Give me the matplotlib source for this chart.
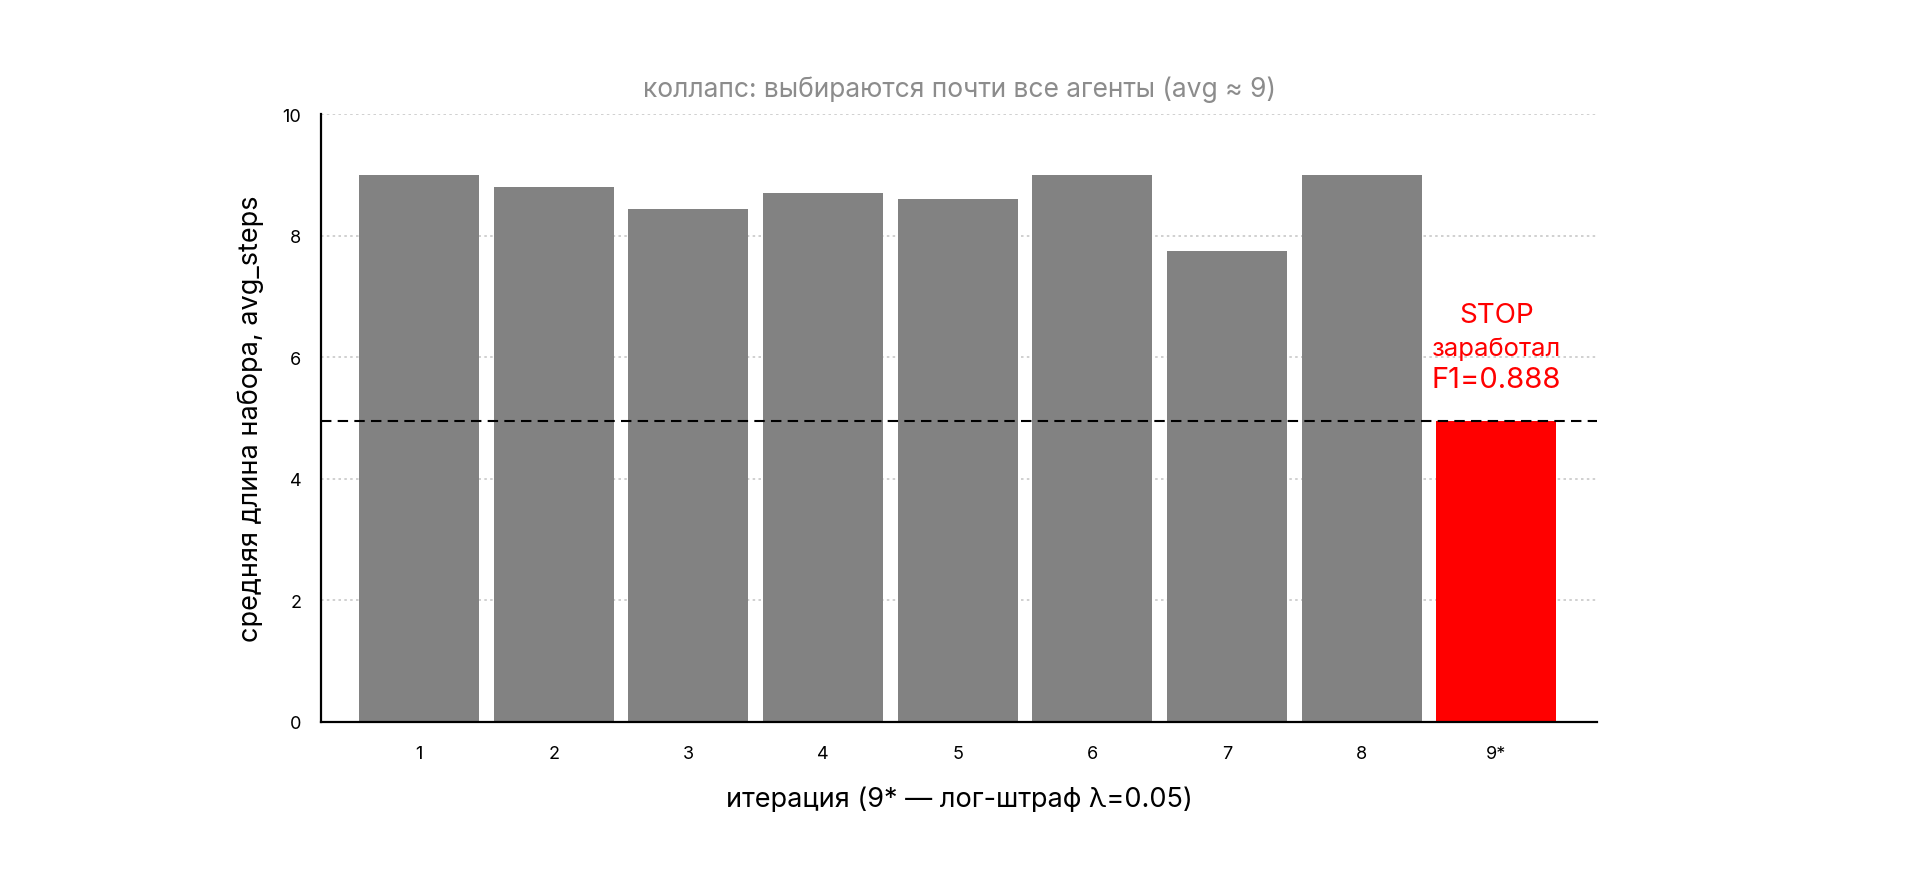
"""
Средняя длина набора по итерациям
"""

import matplotlib
matplotlib.use('Agg')
import matplotlib.pyplot as plt

# Данные
iterations = ['1', '2', '3', '4', '5', '6', '7', '8', '9*']
avg_steps = [9.0, 8.8, 8.43, 8.7, 8.6, 9.0, 7.75, 9.0, 4.94]
bar_colors = ['#828282'] * 8 + ['#ff0000']
stop_level = 4.94

plt.rcParams['font.family'] = ['Inter', 'DejaVu Sans']

fig = plt.figure(figsize=(19.2, 8.78), dpi=100)
ax = fig.add_axes([0.167, 0.177, 0.665, 0.692])

x = list(range(len(iterations)))
ax.bar(x, avg_steps, width=0.89, color=bar_colors, zorder=2)

# пунктир на уровне STOP
ax.axhline(stop_level, color='black', linestyle=(0, (5, 3)), linewidth=1.5, zorder=3)

# подпись над последним столбиком
ax.text(8, 6.69, 'STOP', color='red', fontsize=20, ha='center', va='center')
ax.text(8, 6.15, 'заработал', color='red', fontsize=18.5, ha='center', va='center')
ax.text(8, 5.63, 'F1=0.888', color='red', fontsize=21, ha='center', va='center')

ax.set_xlim(-0.73, 8.75)
ax.set_ylim(0, 10)
ax.set_xticks(x)
ax.set_xticklabels(iterations)
ax.set_yticks([0, 2, 4, 6, 8, 10])

ax.tick_params(axis='both', length=0, labelsize=13)
ax.tick_params(axis='x', pad=17)
ax.tick_params(axis='y', pad=14)

ax.grid(axis='y', color='#c8c8c8', linestyle=(0, (1.5, 2)), linewidth=1.2, zorder=0)

for s in ['top', 'right']:
    ax.spines[s].set_visible(False)
ax.spines['left'].set_linewidth(1.6)
ax.spines['bottom'].set_linewidth(1.6)

ax.set_title('коллапс: выбираются почти все агенты (avg ≈ 9)', color='#8c8c8c',
             fontsize=19, pad=13)
ax.set_xlabel('итерация (9* — лог-штраф λ=0.05)', fontsize=19.5, labelpad=17)
ax.set_ylabel('средняя длина набора, avg_steps', fontsize=19.5, labelpad=13)

plt.savefig('out.png', dpi=100)
